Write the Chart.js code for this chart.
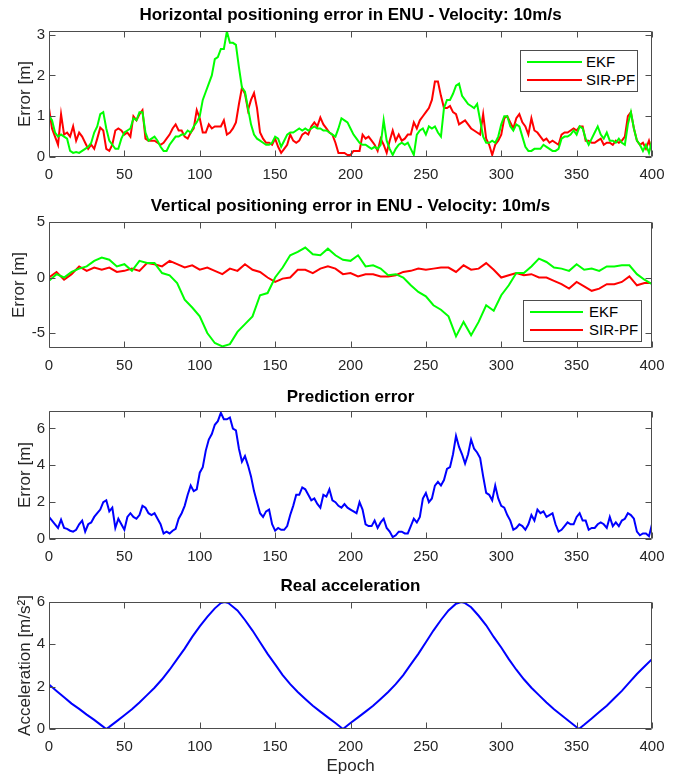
<!DOCTYPE html>
<html>
<head>
<meta charset="utf-8">
<script src="https://cdn.jsdelivr.net/npm/chart.js@4.4.0/dist/chart.umd.min.js"></script>
<style>
  body { margin: 0; background: #fff; font-family: "Liberation Sans", Arial, sans-serif; }
  #page { position: relative; width: 692px; height: 777px; overflow: hidden; background: #fff; }
  canvas { position: absolute; left: 0; }
  .title { position: absolute; left: 49px; width: 603px; text-align: center; font-weight: bold;
           font-size: 17px; line-height: 20px; color: #000; z-index: 2; white-space: nowrap; }
  .legend { position: absolute; background: #fff; border: 1px solid #4d4d4d; box-sizing: border-box; z-index: 3; }
  .legend .item { position: absolute; left: 0; height: 18px; font-size: 15px; line-height: 18px; color: #000; }
  .legend .swatch { position: absolute; height: 2px; }
  .legend .label { position: absolute; top: 0; white-space: nowrap; }
</style>
</head>
<body>
<div id="page">
  <div class="title" style="top:5px">Horizontal positioning error in ENU - Velocity: 10m/s</div>
  <div class="title" style="top:196px">Vertical positioning error in ENU - Velocity: 10m/s</div>
  <div class="title" style="top:387px">Prediction error</div>
  <div class="title" style="top:576px">Real acceleration</div>
  <canvas id="c1" width="692" height="165" style="top:18px"></canvas>
  <canvas id="c2" width="692" height="165" style="top:209px"></canvas>
  <canvas id="c3" width="692" height="167" style="top:398px"></canvas>
  <canvas id="c4" width="692" height="188" style="top:589px"></canvas>
  <div class="legend" id="leg1" style="left:520px; top:50px; width:118px; height:42px"></div>
  <div class="legend" id="leg2" style="left:523px; top:300px; width:119px; height:42px"></div>
</div>
<script>
// ---- data ----
const xTicks = [0, 50, 100, 150, 200, 250, 300, 350, 400];

// horizontal error, every 2 epochs
const hEkf = [
  1.0, 0.9, 0.6, 0.5, 0.55, 0.5, 0.45, 0.15, 0.1, 0.12, 0.1, 0.15, 0.2, 0.25, 0.35, 0.6, 0.75, 1.05, 1.1, 0.7,
  0.4, 0.3, 0.2, 0.2, 0.45, 0.6, 0.65, 0.7, 0.95, 0.9, 1.1, 1.1, 0.6, 0.4, 0.45, 0.5, 0.4, 0.25, 0.15, 0.15,
  0.3, 0.4, 0.5, 0.5, 0.55, 0.55, 0.65, 0.6, 0.75, 0.85, 1.0, 1.4, 1.6, 1.8, 2.0, 2.4, 2.45, 2.65, 2.65, 3.08,
  2.8, 2.8, 2.75, 2.2, 1.7, 1.6, 1.2, 0.8, 0.55, 0.45, 0.4, 0.35, 0.3, 0.3, 0.35, 0.5, 0.45, 0.25, 0.4, 0.55,
  0.6, 0.6, 0.65, 0.7, 0.65, 0.7, 0.65, 0.7, 0.75, 0.7, 0.7, 0.65, 0.65, 0.6, 0.55, 0.5, 0.7, 0.95, 0.9, 0.85,
  0.7, 0.55, 0.45, 0.35, 0.3, 0.3, 0.25, 0.2, 0.25, 0.2, 0.3, 0.9, 0.4, 0.2, 0.05, 0.2, 0.3, 0.35, 0.3, 0.35,
  0.2, 0.05, 0.55, 0.65, 0.7, 0.55, 0.75, 0.7, 0.75, 0.6, 0.5, 1.2, 1.4, 1.4, 1.55, 1.75, 1.8, 1.5, 1.4, 1.3,
  1.25, 1.2, 1.3, 0.9, 0.5, 0.35, 0.35, 0.4, 0.35, 0.5, 0.8, 1.0, 1.0, 0.75, 0.65, 0.8, 0.75, 0.5, 0.25, 0.15,
  0.15, 0.2, 0.2, 0.2, 0.3, 0.25, 0.2, 0.15, 0.15, 0.2, 0.45, 0.5, 0.5, 0.55, 0.65, 0.55, 0.75, 0.7, 0.45, 0.3,
  0.45, 0.6, 0.75, 0.55, 0.45, 0.6, 0.4, 0.4, 0.35, 0.45, 0.35, 0.3, 0.8, 1.1, 0.7, 0.4, 0.3, 0.15, 0.3, 0.1,
  0.4
];
const hPf = [
  1.2, 0.7, 0.5, 0.3, 1.05, 0.55, 0.6, 0.5, 0.75, 0.4, 0.6, 0.5, 0.35, 0.2, 0.3, 0.2, 0.45, 0.72, 0.65, 0.2,
  0.15, 0.3, 0.65, 0.7, 0.65, 0.55, 0.6, 0.5, 1.0, 0.9, 1.05, 1.15, 0.45, 0.4, 0.4, 0.4, 0.35, 0.3, 0.35, 0.45,
  0.55, 0.7, 0.8, 0.65, 0.65, 0.5, 0.45, 0.6, 0.7, 1.15, 0.95, 0.6, 0.6, 0.8, 0.7, 0.75, 0.75, 0.75, 0.9, 0.55,
  0.6, 0.7, 0.85, 1.3, 1.7, 1.55, 1.15, 1.4, 1.57, 1.2, 0.6, 0.45, 0.35, 0.35, 0.3, 0.45, 0.25, 0.1, 0.2, 0.3,
  0.55, 0.4, 0.35, 0.4, 0.55, 0.6, 0.55, 0.75, 0.85, 0.75, 0.97, 0.8, 0.7, 0.6, 0.55, 0.35, 0.1, 0.1, 0.1, 0.05,
  0.05, 0.15, 0.15, 0.15, 0.55, 0.45, 0.5, 0.4, 0.3, 0.15, 0.45, 0.3, 0.1, 0.4, 0.65, 0.4, 0.55, 0.4, 0.45, 0.55,
  0.55, 0.85, 0.7, 0.9, 1.0, 1.1, 1.2, 1.4, 1.85, 1.85, 1.5, 1.2, 1.2, 1.25, 1.1, 1.05, 0.8, 0.85, 0.9, 0.8,
  0.7, 0.65, 0.6, 0.55, 1.05, 0.45, 0.3, 0.05, 0.3, 0.4, 0.55, 0.95, 1.0, 0.85, 0.7, 0.95, 1.05, 0.85, 0.75, 0.55,
  0.95, 0.65, 0.6, 0.5, 0.4, 0.45, 0.35, 0.4, 0.35, 0.3, 0.55, 0.6, 0.6, 0.65, 0.7, 0.65, 0.75, 0.75, 0.4, 0.4,
  0.35, 0.35, 0.4, 0.45, 0.3, 0.35, 0.35, 0.3, 0.4, 0.35, 0.4, 0.5, 1.0, 1.1, 0.7, 0.4, 0.3, 0.35, 0.2, 0.4,
  0.15
];

// vertical error, every 5 epochs
const vEkf = [
  -0.3, 0.3, 0.0, 0.5, 0.8, 1.0, 1.5, 1.8, 1.6, 1.0, 1.2, 0.6, 1.5, 1.3, 1.3, 0.4, 0.2, -0.5, -2.0, -2.7,
  -3.5, -5.0, -5.9, -6.2, -6.0, -4.9, -4.2, -3.5, -1.6, -1.4, 0.0, 0.9, 2.0, 2.3, 2.7, 2.1, 2.0, 2.6, 2.0, 1.6,
  1.5, 2.0, 1.0, 1.1, 0.8, 0.2, 0.3, 0.0, -0.7, -1.3, -1.7, -2.5, -2.9, -3.5, -5.3, -4.0, -5.2, -4.0, -2.5, -3.0,
  -1.6, -0.7, 0.4, 0.4, 1.0, 1.7, 1.4, 0.9, 0.8, 0.6, 1.2, 0.7, 0.8, 0.6, 1.0, 1.0, 1.1, 1.1, 0.3, -0.2,
  -0.6
];
const vPf = [
  0.0, 0.5, -0.2, 0.3, 1.0, 0.6, 0.9, 0.7, 0.9, 0.5, 0.6, 0.8, 0.6, 1.3, 1.2, 1.0, 1.5, 1.2, 0.9, 1.1,
  0.7, 0.9, 0.6, 0.3, 0.8, 0.6, 1.2, 0.7, 0.5, 0.0, -0.4, -0.1, 0.0, 0.7, 0.7, 0.4, 0.8, 1.0, 0.8, 0.3,
  0.4, 0.1, 0.3, 0.3, 0.1, 0.1, 0.2, 0.5, 0.6, 0.8, 0.7, 0.8, 0.9, 0.9, 0.5, 1.1, 0.7, 0.8, 1.3, 0.7,
  0.0, 0.2, 0.4, 0.2, 0.3, 0.0, 0.0, -0.3, -0.6, -1.0, -0.4, -0.8, -1.2, -1.0, -0.6, -0.6, -0.4, 0.1, -0.7, -0.5,
  -0.5
];

// prediction error, every 2 epochs
const predErr = [
  1.2, 1.0, 0.8, 0.6, 1.05, 0.6, 0.55, 0.45, 0.4, 0.5, 0.8, 1.0, 0.4, 0.8, 0.9, 1.2, 1.4, 1.6, 2.0, 2.1,
  1.5, 1.7, 0.6, 1.1, 0.8, 0.5, 1.2, 1.4, 1.2, 1.1, 1.3, 1.8, 1.7, 1.4, 1.3, 1.4, 1.1, 0.8, 0.3, 0.4,
  0.3, 0.45, 0.55, 1.1, 1.4, 1.8, 2.4, 2.9, 2.6, 2.7, 3.6, 3.9, 4.8, 5.4, 5.7, 6.2, 6.4, 6.85, 6.5, 6.5,
  6.6, 6.0, 5.9, 4.9, 4.2, 4.5, 4.0, 3.4, 2.6, 2.0, 1.4, 1.2, 1.5, 1.6, 0.8, 0.45, 0.6, 0.5, 0.5, 0.7,
  1.3, 1.8, 2.4, 2.4, 2.8, 2.7, 2.4, 2.1, 2.2, 1.9, 1.7, 2.4, 2.3, 2.7, 2.1, 2.0, 1.8, 1.7, 1.9, 1.7,
  1.6, 1.5, 1.4, 2.0, 1.6, 0.8, 0.7, 0.7, 1.0, 0.6, 0.9, 1.1, 0.6, 0.4, 0.1, 0.2, 0.4, 0.4, 0.3, 0.3,
  0.7, 1.1, 0.9, 1.2, 2.2, 2.5, 2.0, 2.2, 2.9, 3.1, 2.9, 3.2, 3.8, 3.9, 4.6, 5.6, 5.0, 4.6, 4.1, 4.6,
  5.4, 4.9, 4.7, 4.4, 3.4, 2.5, 2.4, 2.1, 2.9, 2.2, 1.8, 1.7, 1.3, 1.0, 0.5, 0.6, 0.8, 0.7, 0.5, 0.8,
  1.3, 1.0, 1.6, 1.4, 1.5, 1.2, 1.3, 1.4, 0.8, 0.4, 0.5, 0.7, 0.9, 0.8, 0.8, 1.2, 1.4, 1.0, 1.0, 0.5,
  0.6, 0.6, 0.8, 0.9, 0.8, 0.6, 1.2, 0.7, 0.9, 0.7, 1.0, 1.1, 1.4, 1.3, 1.1, 0.4, 0.2, 0.3, 0.3, 0.15,
  0.8
];

// real acceleration
const accEpochs = [
  0, 5, 10, 15, 20, 25, 30, 35, 38, 40, 45, 50, 55, 60, 65, 70, 75, 80, 85, 90,
  95, 100, 105, 110, 114, 116.5, 119, 125, 130, 135, 140, 145, 150, 155, 160, 165, 170, 175, 180, 185,
  190, 195, 200, 205, 210, 215, 220, 225, 230, 235, 240, 245, 250, 255, 260, 265, 270, 273.5, 276, 280,
  285, 290, 295, 300, 305, 310, 315, 320, 325, 330, 335, 340, 345, 351.5, 355, 360, 365, 370, 375, 380,
  385, 390, 395, 400
];
const accValues = [
  2.1, 1.8, 1.5, 1.2, 0.95, 0.68, 0.43, 0.16, 0.0, 0.1, 0.37, 0.65, 0.93, 1.25, 1.6, 1.95, 2.35, 2.8, 3.3, 3.8,
  4.35, 4.85, 5.3, 5.7, 5.95, 6.0, 5.95, 5.6, 5.15, 4.65, 4.1, 3.55, 3.05, 2.55, 2.12, 1.75, 1.42, 1.1, 0.82, 0.55,
  0.28, 0.0, 0.28, 0.55, 0.82, 1.1, 1.42, 1.75, 2.12, 2.55, 3.05, 3.55, 4.1, 4.65, 5.15, 5.6, 5.92, 6.0, 5.95, 5.75,
  5.35, 4.9, 4.35, 3.85, 3.3, 2.8, 2.35, 1.95, 1.6, 1.25, 0.93, 0.65, 0.37, 0.0, 0.2, 0.5, 0.8, 1.1, 1.45, 1.8,
  2.2, 2.6, 2.95, 3.3
];

const GREEN = '#00ff00';
const RED = '#ff0000';
const BLUE = '#0000ff';
const FONT = '"Liberation Sans", Arial, sans-serif';

function pairs(step, values) {
  return values.map((v, i) => ({ x: i * step, y: v }));
}

// MATLAB-like box with inward ticks
const axesBox = {
  id: 'axesBox',
  afterDraw(chart) {
    const { ctx, chartArea: a, scales } = chart;
    const L = Math.round(a.left) + 0.5, R = Math.round(a.right) - 0.5;
    const T = Math.round(a.top) + 0.5, B = Math.round(a.bottom) - 0.5;
    ctx.save();
    ctx.strokeStyle = '#4d4d4d';
    ctx.lineWidth = 1;
    ctx.beginPath();
    ctx.rect(L, T, R - L, B - T);
    scales.x.ticks.forEach(t => {
      const px = Math.round(scales.x.getPixelForValue(t.value)) + 0.5;
      ctx.moveTo(px, B); ctx.lineTo(px, B - 6);
      ctx.moveTo(px, T); ctx.lineTo(px, T + 6);
    });
    scales.y.ticks.forEach(t => {
      const py = Math.round(scales.y.getPixelForValue(t.value)) + 0.5;
      ctx.moveTo(L, py); ctx.lineTo(L + 6, py);
      ctx.moveTo(R, py); ctx.lineTo(R - 6, py);
    });
    ctx.stroke();
    ctx.restore();
  }
};

function makePanel(id, datasets, o) {
  return new Chart(document.getElementById(id), {
    type: 'line',
    data: { datasets: datasets.map(d => ({
      label: d.label, data: d.data, borderColor: d.color, backgroundColor: d.color,
      borderWidth: 2, pointRadius: 0, tension: 0, fill: false
    })) },
    options: {
      responsive: false,
      animation: false,
      events: [],
      layout: { padding: { top: 10, right: 40, left: 0, bottom: 0 } },
      plugins: { legend: { display: false }, tooltip: { enabled: false } },
      scales: {
        x: {
          type: 'linear', min: 0, max: 400,
          afterBuildTicks: s => { s.ticks = xTicks.map(v => ({ value: v })); },
          afterFit: s => { s.height = o.xh; },
          grid: { display: false, drawTicks: false },
          border: { display: false },
          ticks: { color: '#262626', padding: 9, maxRotation: 0, font: { family: FONT, size: 15 } },
          title: { display: !!o.xTitle, text: o.xTitle || '', color: '#262626', padding: { top: 0, bottom: 0 },
                   font: { family: FONT, size: 17 } }
        },
        y: {
          type: 'linear', min: o.yMin, max: o.yMax,
          afterBuildTicks: s => { s.ticks = o.yTicks.map(v => ({ value: v })); },
          afterFit: s => { s.width = 49; },
          grid: { display: false, drawTicks: false },
          border: { display: false },
          ticks: { color: '#262626', padding: 4, font: { family: FONT, size: 15 } },
          title: { display: true, text: o.yTitle, color: '#262626', padding: { top: o.yTitlePad, bottom: 0 },
                   font: { family: FONT, size: 17 } }
        }
      }
    },
    plugins: [axesBox]
  });
}

const ch1 = makePanel('c1', [
  { label: 'EKF', color: GREEN, data: pairs(2, hEkf) },
  { label: 'SIR-PF', color: RED, data: pairs(2, hPf) }
], { yMin: 0, yMax: 3.09, yTicks: [0, 1, 2, 3], yTitle: 'Error [m]', yTitlePad: 15, xh: 26 });

const ch2 = makePanel('c2', [
  { label: 'EKF', color: GREEN, data: pairs(5, vEkf) },
  { label: 'SIR-PF', color: RED, data: pairs(5, vPf) }
], { yMin: -6.35, yMax: 5, yTicks: [-5, 0, 5], yTitle: 'Error [m]', yTitlePad: 9, xh: 26 });

makePanel('c3', [
  { label: 'Prediction error', color: BLUE, data: pairs(2, predErr) }
], { yMin: 0, yMax: 6.95, yTicks: [0, 2, 4, 6], yTitle: 'Error [m]', yTitlePad: 15, xh: 26 });

makePanel('c4', [
  { label: 'Real acceleration', color: BLUE, data: accEpochs.map((e, i) => ({ x: e, y: accValues[i] })) }
], { yMin: 0, yMax: 6, yTicks: [0, 2, 4, 6], yTitle: 'Acceleration [m/s\u00b2]', yTitlePad: 15, xh: 48, xTitle: 'Epoch' });

// legends drawn as html boxes inside the axes
function buildLegend(elId, chart, rows, lineX, lineW, textX) {
  const el = document.getElementById(elId);
  chart.data.datasets.forEach((ds, i) => {
    const item = document.createElement('div');
    item.className = 'item';
    item.style.top = (rows[i] - 9) + 'px';
    item.style.width = '100%';
    const sw = document.createElement('div');
    sw.className = 'swatch';
    sw.style.left = lineX + 'px';
    sw.style.width = lineW + 'px';
    sw.style.top = '8px';
    sw.style.background = ds.borderColor;
    const lb = document.createElement('div');
    lb.className = 'label';
    lb.style.left = textX + 'px';
    lb.textContent = ds.label;
    item.appendChild(sw);
    item.appendChild(lb);
    el.appendChild(item);
  });
}
buildLegend('leg1', ch1, [11, 29], 6, 55, 65);
buildLegend('leg2', ch2, [11, 29], 6, 53, 65);
</script>
</body>
</html>
